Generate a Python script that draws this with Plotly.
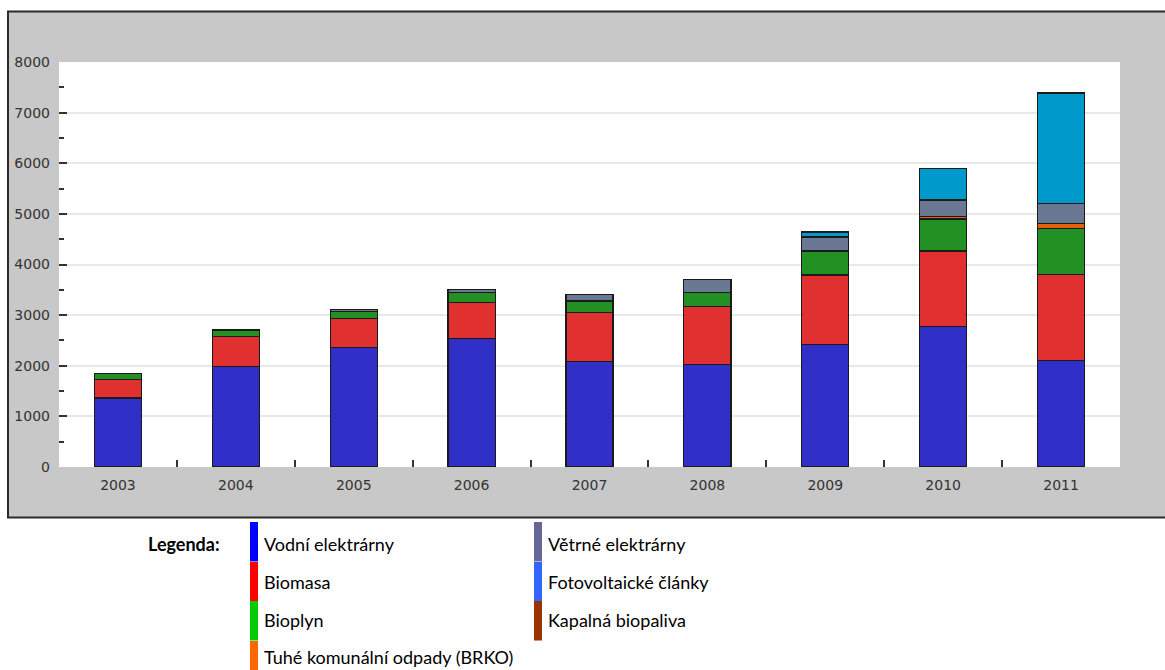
import plotly.graph_objects as go

# Production of electricity from renewable sources (GWh)
years = ["2003", "2004", "2005", "2006", "2007", "2008", "2009", "2010", "2011"]
vodni = [1365, 1992, 2362, 2540, 2091, 2026, 2427, 2770, 2111]
biomasa = [370, 580, 566, 712, 956, 1139, 1365, 1497, 1695]
bioplyn = [113, 118, 146, 198, 217, 285, 475, 633, 910]
brko = [0, 0, 0, 0, 15, 0, 0, 55, 88]
vetrne = [5, 25, 30, 55, 130, 260, 275, 320, 405]
fotovoltaika = [0, 0, 0, 0, 0, 0, 100, 627, 2180]

y_ticks = [0, 1000, 2000, 3000, 4000, 5000, 6000, 7000, 8000]

series = [
    ("Vodní elektrárny", vodni, "#3030c8"),
    ("Biomasa", biomasa, "#e03030"),
    ("Bioplyn", bioplyn, "#229022"),
    ("Tuhé komunální odpady (BRKO)", brko, "#e8600c"),
    ("Větrné elektrárny", vetrne, "#6a7894"),
    ("Fotovoltaické články", fotovoltaika, "#0099cc"),
]

# legend entries (label, colour, column, row)
legend_items = [
    ("Vodní elektrárny", "#0000ff", 0, 0),
    ("Biomasa", "#ff0000", 0, 1),
    ("Bioplyn", "#00cc00", 0, 2),
    ("Tuhé komunální odpady (BRKO)", "#ff6600", 0, 3),
    ("Větrné elektrárny", "#666699", 1, 0),
    ("Fotovoltaické články", "#3366ff", 1, 1),
    ("Kapalná biopaliva", "#993300", 1, 2),
]

W, H = 1165, 670
L, R, T, B = 59, 45, 62, 203
PW, PH = W - L - R, H - T - B


def px(x):
    return (x - L) / PW


def py(y):
    return (H - B - y) / PH


fig = go.Figure()
for name, vals, col in series:
    fig.add_trace(go.Bar(
        x=years, y=vals, name=name, width=0.4,
        marker=dict(color=col, line=dict(color="#1a1a1a", width=1.2)),
    ))

shapes = [
    # grey frame around the chart
    dict(type="rect", xref="paper", yref="paper", layer="below",
         x0=px(8), x1=px(W + 10), y0=py(517.5), y1=py(11.5),
         fillcolor="#c8c8c8", line=dict(color="#2a2a2a", width=2)),
    # white plotting area
    dict(type="rect", xref="paper", yref="paper", layer="below",
         x0=0, x1=1, y0=0, y1=1, fillcolor="#ffffff", line=dict(width=0)),
]

legend_font = dict(family="Lato", size=18, color="#000000")
annotations = [
    dict(text="<b>Legenda:</b>", xref="paper", yref="paper", x=px(146), y=py(544),
         xanchor="left", yanchor="middle", showarrow=False, font=legend_font),
]

col_x = [250, 534]
row_top = [522, 562, 601, 641]
row_mid = [544, 582, 620, 657]
row_h = 39.5
for label, col, c, r in legend_items:
    y0 = row_top[r]
    shapes.append(dict(type="rect", xref="paper", yref="paper",
                       x0=px(col_x[c]), x1=px(col_x[c] + 8),
                       y0=py(min(y0 + row_h, H + 5)), y1=py(y0),
                       fillcolor=col, line=dict(width=0)))
    annotations.append(dict(text=label, xref="paper", yref="paper",
                            x=px(col_x[c] + 12), y=py(row_mid[r]),
                            xanchor="left", yanchor="middle", showarrow=False,
                            font=legend_font))

fig.update_layout(
    width=W, height=H,
    margin=dict(l=L, r=R, t=T, b=B, pad=0),
    paper_bgcolor="#ffffff",
    plot_bgcolor="rgba(0,0,0,0)",
    barmode="stack",
    showlegend=False,
    shapes=shapes,
    annotations=annotations,
    font=dict(family="DejaVu Sans", size=14, color="#333333"),
    xaxis=dict(
        type="category", showline=False, showgrid=False, zeroline=False,
        ticks="inside", tickson="boundaries", ticklen=7, tickwidth=2,
        tickcolor="#333333", ticklabelstandoff=8,
        tickfont=dict(family="DejaVu Sans", size=14, color="#333333"),
    ),
    yaxis=dict(
        range=[0, 8000], tickvals=y_ticks, showline=False, zeroline=False,
        showgrid=True, gridcolor="#e8e8e8", gridwidth=2,
        ticks="inside", ticklen=8, tickwidth=2, tickcolor="#333333",
        ticklabelstandoff=8,
        tickfont=dict(family="DejaVu Sans", size=14, color="#333333"),
        minor=dict(ticks="inside", ticklen=5, tickwidth=2, tickcolor="#333333",
                   dtick=500, tick0=0, showgrid=False),
    ),
)

fig.write_html("out.html")
